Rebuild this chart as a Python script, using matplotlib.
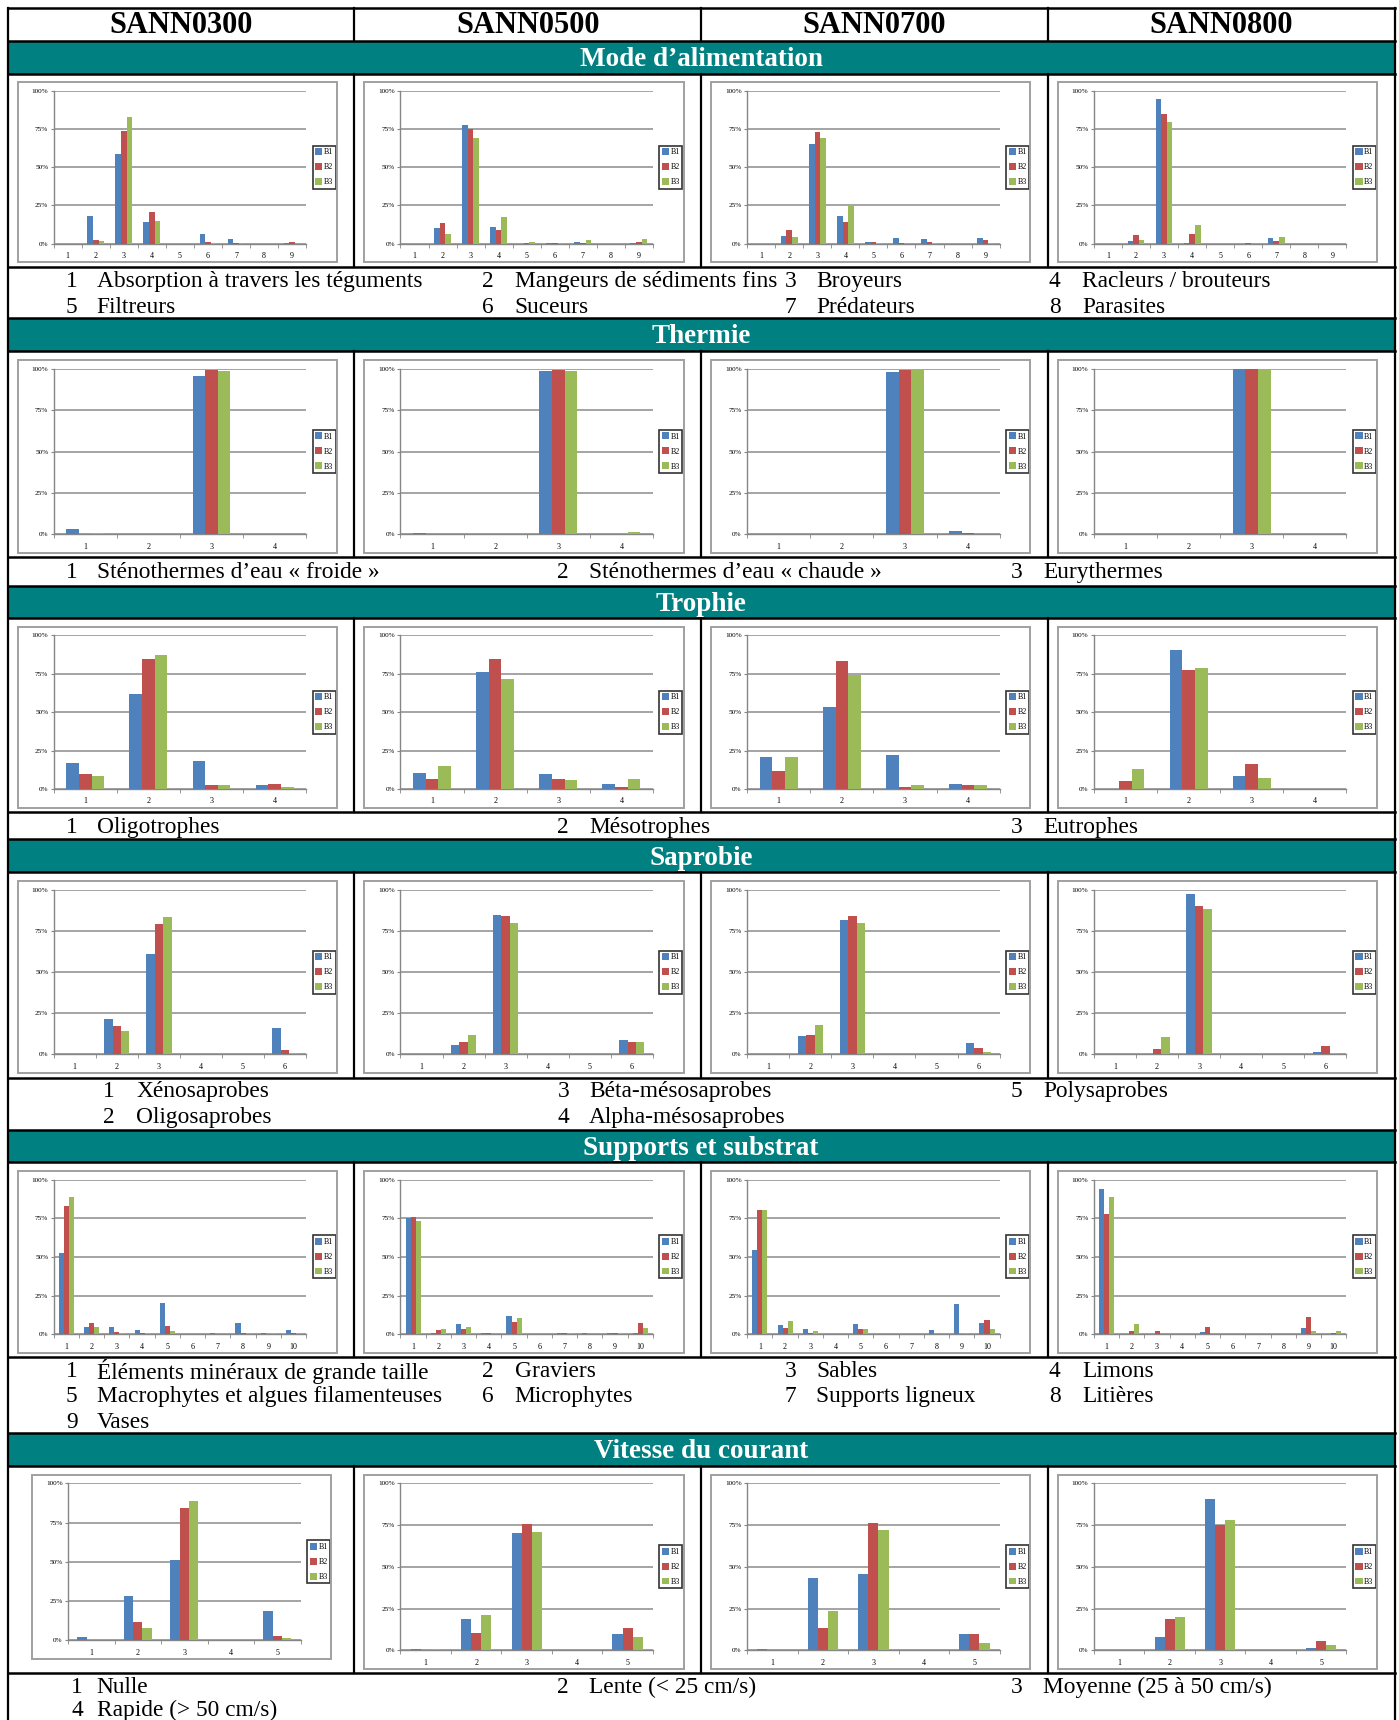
import numpy as np
import matplotlib.pyplot as plt
from matplotlib.patches import Rectangle
from matplotlib.lines import Line2D

plt.rcParams['font.family'] = ['Liberation Serif', 'DejaVu Serif']

# ------------------------------------------------------------------
# data : % of abundance per category, one list per class [B1, B2, B3]
# ------------------------------------------------------------------
sites = ["SANN0300", "SANN0500", "SANN0700", "SANN0800"]
series = ["B1", "B2", "B3"]
colors = ["#4F81BD", "#C0504D", "#9BBB59"]

# Mode d'alimentation (9 categories)
alim_0300 = [[0, 18, 58.5, 14, 0, 6.5, 3, 0, 0.5],
             [0, 2.5, 74, 21, 0, 1, 0.5, 0, 1],
             [0, 2, 83, 14.5, 0, 0.5, 0.5, 0, 0]]
alim_0500 = [[0, 10, 77.5, 11, 0, 0.5, 1, 0, 0.5],
             [0, 13.5, 75, 9, 0.5, 0.5, 0.3, 0, 1],
             [0, 6.5, 69, 17.5, 1, 0.5, 2.5, 0, 3]]
alim_0700 = [[0, 5, 65.5, 18, 1, 3.5, 3, 0, 3.5],
             [0, 9, 73, 14, 1, 0.5, 1, 0, 2.5],
             [0, 4.5, 69.5, 25.5, 0.5, 0, 0.5, 0, 0.5]]
alim_0800 = [[0, 1.5, 94.5, 0.5, 0, 0, 3.5, 0, 0],
             [0, 5.5, 85, 6.5, 0, 0.3, 2, 0, 0],
             [0, 2.5, 80, 12.5, 0, 0, 4.5, 0, 0]]
alim_labels = ["Absorption à travers les téguments", "Mangeurs de sédiments fins",
               "Broyeurs", "Racleurs / brouteurs", "Filtreurs", "Suceurs",
               "Prédateurs", "Parasites"]

# Thermie (4 categories)
therm_0300 = [[3.5, 0, 95.5, 0.5], [0.5, 0, 99, 0.5], [1, 0, 98.5, 0]]
therm_0500 = [[1, 0.3, 98.5, 0.3], [0.3, 0, 99.5, 0.3], [0, 0, 98.5, 1.5]]
therm_0700 = [[0, 0, 98, 2], [0, 0, 99.5, 1], [0, 0, 100, 0.3]]
therm_0800 = [[0, 0, 100, 0], [0, 0, 100, 0], [0, 0, 100, 0]]
therm_labels = ["Sténothermes d’eau « froide »", "Sténothermes d’eau « chaude »",
                "Eurythermes"]

# Trophie (4 categories)
troph_0300 = [[17, 62, 18.5, 2.5], [10, 84.5, 2.5, 3], [8.5, 87.5, 2.5, 1]]
troph_0500 = [[10.5, 76, 9.5, 3.5], [6.5, 84.5, 6.5, 1.5], [15, 71.5, 6, 6.5]]
troph_0700 = [[20.5, 53.5, 22, 3], [11.5, 83.5, 1.5, 2.5], [20.5, 74, 2.5, 2.5]]
troph_0800 = [[0, 90.5, 8.5, 0], [5, 77.5, 16, 0], [13, 79, 7, 0]]
troph_labels = ["Oligotrophes", "Mésotrophes", "Eutrophes"]

# Saprobie (6 categories)
sapr_0300 = [[0, 21.5, 61, 0.3, 0, 16], [0, 17.5, 79, 0, 0, 2.5], [0, 14.5, 83.5, 0, 0, 1]]
sapr_0500 = [[0, 5.5, 85, 0, 0, 9], [0, 7.5, 84, 0, 0, 7.5], [0, 12, 80, 0, 0, 7.5]]
sapr_0700 = [[0, 11, 81.5, 0, 0, 7], [0, 12, 84, 0, 0, 4], [0, 18, 80, 0, 0, 1.5]]
sapr_0800 = [[0, 0, 97.5, 0, 0, 1.5], [0, 3.5, 90, 0, 0, 5], [0, 10.5, 88.5, 0, 0, 1]]
sapr_labels = ["Xénosaprobes", "Oligosaprobes", "Béta-mésosaprobes",
               "Alpha-mésosaprobes", "Polysaprobes"]

# Supports et substrat (10 categories)
supp_0300 = [[52.5, 5, 5, 3, 20, 0, 1, 7.5, 1, 2.5],
             [83, 7, 1.5, 0.5, 5.5, 0, 0, 1, 0, 1],
             [88.5, 5, 0.5, 0.5, 2, 0, 0, 0.5, 1, 1]]
supp_0500 = [[75, 1, 6.5, 0.5, 12, 0, 0.5, 0.5, 1, 1],
             [75.5, 3, 3.5, 0.5, 8, 0, 0.5, 0, 0.5, 7.5],
             [73.5, 3.5, 4.5, 0, 10.5, 0, 1, 0, 1, 4]]
supp_0700 = [[54.5, 6, 3.5, 0.3, 6.5, 0, 0.3, 2.5, 19.5, 7],
             [80.5, 4, 1, 0, 3.5, 0, 0.3, 0.3, 0, 9.5],
             [80.5, 8.5, 2, 0, 3.5, 0, 0.3, 0, 1, 3.5]]
supp_0800 = [[94, 0, 0, 0, 1.5, 0, 0, 0, 4, 0],
             [78, 2, 2, 0, 5, 0, 0, 0, 11, 1],
             [88.5, 6.5, 0, 0, 0.3, 0, 0, 0, 2, 2]]
supp_labels = ["Éléments minéraux de grande taille", "Graviers", "Sables", "Limons",
               "Macrophytes et algues filamenteuses", "Microphytes",
               "Supports ligneux", "Litières", "Vases"]

# Vitesse du courant (5 categories)
vit_0300 = [[2, 28, 51, 0.5, 18.5], [0, 12, 84.5, 0.5, 2.5], [0, 8, 89, 0.5, 1.5]]
vit_0500 = [[0.5, 19, 70.5, 0, 10], [0, 10.5, 76, 0, 13.5], [0.5, 21, 71, 0, 8]]
vit_0700 = [[0.5, 43.5, 46, 0.2, 9.5], [0.2, 13.5, 76.5, 0.2, 10], [0.2, 23.5, 72, 0, 4.5]]
vit_0800 = [[0, 8, 90.5, 0, 1.5], [0, 18.5, 75, 0, 5.5], [0, 20, 78, 0, 3]]
vit_labels = ["Nulle", "Lente (< 25 cm/s)", "Moyenne (25 à 50 cm/s)", "Rapide (> 50 cm/s)"]

# ------------------------------------------------------------------
# layout (measured in the reference, scaled to the output size)
# ------------------------------------------------------------------
W, H = 1399, 1720
S = 1399 / 1275
TEAL = "#008080"

fig = plt.figure(figsize=(W / 100, H / 100), dpi=100)


def fx(x):
    return x * S / W


def fy(y):
    return 1 - y * S / H


def frame(x0, y0, x1, y1):
    return [fx(x0), fy(y1), fx(x1) - fx(x0), fy(y0) - fy(y1)]


def hline(y, x0=7, x1=1271, lw=1.8):
    fig.add_artist(Line2D([fx(x0), fx(x1)], [fy(y), fy(y)], color="black", lw=lw))


def vline(x, y0, y1, lw=1.6):
    fig.add_artist(Line2D([fx(x), fx(x)], [fy(y0), fy(y1)], color="black", lw=lw))


cols = [7, 323, 639, 955, 1271]

# title, band top, chart top, chart bottom, first text line, line step, n cat, ...
sections = [
    ("Mode d’alimentation", 37, 67, 243, 257, 23, 9,
     [alim_0300, alim_0500, alim_0700, alim_0800], alim_labels,
     [(60, 88, 0), (439, 469, 0), (715, 744, 0), (956, 986, 0),
      (60, 88, 1), (439, 469, 1), (715, 744, 1), (956, 986, 1)]),
    ("Thermie", 290, 320, 508, 522, 23, 4,
     [therm_0300, therm_0500, therm_0700, therm_0800], therm_labels,
     [(60, 88, 0), (508, 537, 0), (921, 951, 0)]),
    ("Trophie", 534, 563, 740, 754, 23, 4,
     [troph_0300, troph_0500, troph_0700, troph_0800], troph_labels,
     [(60, 88, 0), (508, 537, 0), (921, 951, 0)]),
    ("Saprobie", 765, 795, 982, 995, 23, 6,
     [sapr_0300, sapr_0500, sapr_0700, sapr_0800], sapr_labels,
     [(94, 124, 0), (94, 124, 1), (508, 537, 0), (508, 537, 1), (921, 951, 0)]),
    ("Supports et substrat", 1030, 1059, 1237, 1250, 23, 10,
     [supp_0300, supp_0500, supp_0700, supp_0800], supp_labels,
     [(60, 88, 0), (439, 469, 0), (715, 744, 0), (956, 986, 0),
      (60, 88, 1), (439, 469, 1), (715, 744, 1), (956, 986, 1), (60, 88, 2)]),
    ("Vitesse du courant", 1306, 1336, 1525, 1538, 21, 5,
     [vit_0300, vit_0500, vit_0700, vit_0800], vit_labels,
     [(65, 88, 0), (508, 537, 0), (921, 951, 0), (65, 88, 1)]),
]

# odd-sized embedded chart (Vitesse / SANN0300)
box_override = {(5, 0): (29, 1344, 302, 1512)}


def draw_chart(box, data, ncat):
    bx0, by0, bx1, by1 = box
    fig.add_artist(Rectangle((fx(bx0), fy(by1)), fx(bx1) - fx(bx0), fy(by0) - fy(by1),
                             transform=fig.transFigure, fill=False,
                             edgecolor="#a0a0a0", lw=1.4))
    px0, py0, px1, py1 = bx0 + 33, by0 + 8, bx1 - 28, by1 - 17
    ax = fig.add_axes(frame(px0, py0, px1, py1))
    ax.set_facecolor("none")
    x = np.arange(1, ncat + 1)
    for i in range(3):
        ax.bar(x + (i - 1) * 0.2, data[i], 0.2, color=colors[i], label=series[i], zorder=3)
    ax.set_xlim(0.5, ncat + 0.5)
    ax.set_ylim(0, 100)
    ax.set_yticks([0, 25, 50, 75, 100])
    ax.set_yticklabels(["0%", "25%", "50%", "75%", "100%"])
    ax.set_xticks(x)
    ax.set_xticklabels([str(v) for v in x])
    ax.set_xticks(np.arange(0.5, ncat + 1), minor=True)
    ax.tick_params(axis="x", which="major", length=0, labelsize=5.8, pad=6)
    ax.tick_params(axis="x", which="minor", length=3, color="#868686")
    ax.tick_params(axis="y", length=2, color="#868686", labelsize=5.2, pad=2)
    ax.yaxis.grid(True, color="#8c8c8c", lw=1.1)
    ax.set_axisbelow(True)
    for s in ["top", "right"]:
        ax.spines[s].set_visible(False)
    for s in ["left", "bottom"]:
        ax.spines[s].set_color("#868686")
        ax.spines[s].set_linewidth(1.0)
    leg = ax.legend(loc="center left", bbox_to_anchor=(1 + 6 / (px1 - px0), 0.5),
                    fontsize=5.8, frameon=True, fancybox=False, handlelength=0.9,
                    handleheight=0.9, handletextpad=0.2, labelspacing=0.85,
                    borderpad=0.3, borderaxespad=0)
    leg.get_frame().set_edgecolor("black")
    leg.get_frame().set_linewidth(1.2)


# header row
hline(7)
for c, name in enumerate(sites):
    fig.text(fx((cols[c] + cols[c + 1]) / 2), fy(23.5), name, ha="center", va="center",
             fontsize=22, fontweight="bold")
    if c > 0:
        vline(cols[c], 7, 37)

for k, (title, band_top, chart_top, chart_bot, line0, step, ncat, datas, labels, slots) in enumerate(sections):
    # teal band with section title
    fig.add_artist(Rectangle((fx(7), fy(chart_top)), fx(1271) - fx(7), fy(band_top) - fy(chart_top),
                             transform=fig.transFigure, facecolor=TEAL, edgecolor="none"))
    hline(band_top)
    hline(chart_top)
    fig.text(fx(639), fy((band_top + chart_top) / 2 + 2), title, ha="center", va="center",
             fontsize=19.5, fontweight="bold", color="white")
    # charts
    for c in range(4):
        if c > 0:
            vline(cols[c], chart_top, chart_bot)
        box = box_override.get((k, c), (cols[c] + 9, chart_top + 8, cols[c + 1] - 16, chart_bot - 4))
        draw_chart(box, datas[c], ncat)
    hline(chart_bot)
    # category legend text
    for i, (label, (xn, xt, row)) in enumerate(zip(labels, slots)):
        yy = fy(line0 + step * row)
        fig.text(fx(xn), yy, str(i + 1), ha="left", va="center", fontsize=16.8)
        fig.text(fx(xt), yy, label, ha="left", va="center", fontsize=16.8)

# outer borders
vline(7, 7, 1568)
vline(1271, 7, 1568)

fig.savefig("out.png", dpi=100)
